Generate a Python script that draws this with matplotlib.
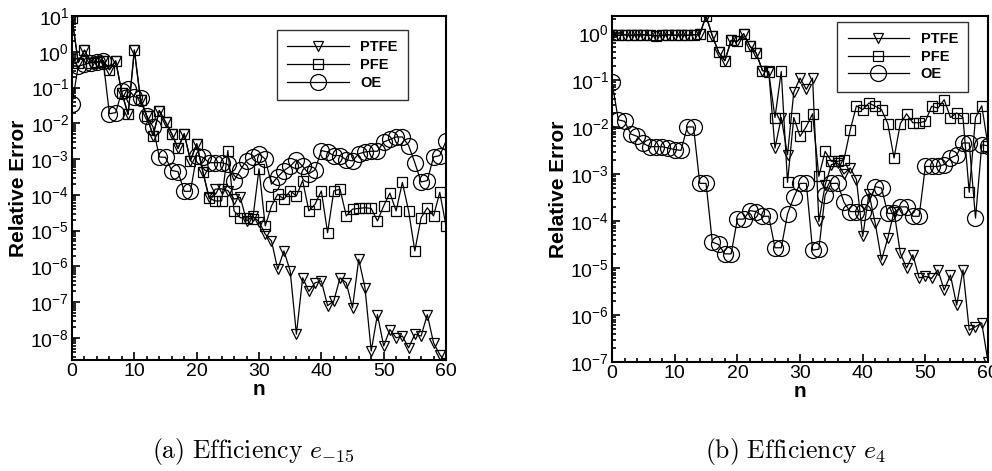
import numpy as np
import matplotlib
matplotlib.use("Agg")
import matplotlib.pyplot as plt
from matplotlib.ticker import LogLocator, MultipleLocator, NullFormatter

plt.rcParams['font.family'] = ['Liberation Sans', 'DejaVu Sans']
plt.rcParams['mathtext.fontset'] = 'custom'
plt.rcParams['mathtext.rm'] = 'Liberation Sans'
plt.rcParams['mathtext.it'] = 'Liberation Sans:italic'
plt.rcParams['mathtext.bf'] = 'Liberation Sans:bold'

n = np.arange(61)

# values given as log10 of the relative error
# (a) efficiency e_-15
a_ptfe = [0.95, -0.3, 0.05, -0.3, -0.28, -0.25, -0.5, -0.25, -1.15, -1.75,
          0.05, -1.35, -1.8, -2.34, -1.64, -1.96, -2.29, -2.7, -2.29, -3.04,
          -2.57, -3.36, -4.07, -3.84, -3.83, -3.88, -4.12, -4.07, -4.73, -4.6,
          -4.75, -5.1, -5.29, -6.08, -5.57, -6.13, -7.9, -6.32, -6.7, -6.46,
          -6.41, -7.1, -6.97, -6.32, -6.46, -7.16, -5.8, -6.6, -8.37, -7.35,
          -8.23, -7.77, -8.0, -7.95, -8.28, -7.9, -7.95, -7.35, -8.14, -8.47,
          -8.7]
a_pfe = [0.95, -0.3, 0.05, -0.3, -0.28, -0.25, -0.5, -0.25, -1.15, -1.75,
         0.05, -1.35, -1.8, -2.34, -1.64, -1.96, -2.29, -2.7, -2.29, -3.04,
         -2.57, -3.36, -4.1, -4.17, -4.17, -2.76, -4.45, -4.64, -4.64, -4.68,
         -3.27, -4.87, -4.31, -3.98, -4.12, -3.89, -4.03, -3.6, -4.45, -4.26,
         -3.89, -5.06, -3.89, -3.84, -4.59, -4.4, -4.38, -4.36, -4.38, -4.73,
         -4.31, -3.95, -4.45, -3.65, -4.45, -5.57, -4.64, -4.36, -4.59, -3.93,
         -4.87]
a_oe = [-1.45, -0.4, -0.35, -0.3, -0.28, -0.25, -1.73, -1.7, -1.1, -1.05,
        -1.25, -1.3, -1.8, -2.1, -2.94, -2.95, -3.32, -3.35, -3.9, -3.9,
        -2.9, -2.95, -3.1, -3.1, -3.1, -3.15, -3.6, -3.3, -3.04, -2.95,
        -2.85, -3.0, -3.7, -3.5, -3.32, -3.2, -3.02, -3.2, -3.41, -3.3,
        -2.76, -2.8, -2.9, -2.9, -3.02, -3.05, -2.85, -2.8, -2.78, -2.78,
        -2.52, -2.45, -2.38, -2.38, -2.62, -3.1, -3.64, -3.6, -2.94, -2.9,
        -2.5]

# (b) efficiency e_4
b_ptfe = [-0.04, -0.05, -0.04, -0.05, -0.04, -0.04, -0.05, -0.06, -0.05, -0.04,
          -0.05, -0.04, -0.05, -0.04, -0.03, 0.36, -0.06, -0.41, -0.59, -0.16,
          -0.18, -0.02, -0.28, -0.43, -0.8, -0.82, -2.45, -1.8, -2.59, -1.26,
          -0.96, -1.2, -0.96, -4.01, -3.24, -2.8, -2.77, -3.0, -2.87, -3.12,
          -4.33, -3.42, -4.05, -4.83, -4.37, -3.8, -4.68, -5.0, -4.72, -5.21,
          -5.18, -5.22, -5.04, -5.47, -5.15, -5.79, -5.04, -6.32, -6.25, -6.17,
          -7.0]
b_pfe = [-0.04, -0.05, -0.04, -0.05, -0.04, -0.04, -0.05, -0.06, -0.05, -0.04,
         -0.05, -0.04, -0.05, -0.04, -0.03, 0.36, -0.06, -0.41, -0.59, -0.16,
         -0.18, -0.02, -0.28, -0.43, -0.8, -0.84, -1.8, -0.82, -3.18, -1.8,
         -2.2, -1.99, -1.72, -3.05, -2.52, -2.73, -2.73, -2.7, -2.07, -1.55,
         -1.63, -1.49, -1.56, -1.63, -1.93, -2.66, -1.93, -1.72, -1.91, -1.91,
         -1.88, -1.56, -1.6, -1.42, -1.8, -1.7, -1.8, -3.39, -1.8, -1.55,
         -2.4]
b_oe = [-1.05, -1.85, -1.88, -2.15, -2.2, -2.35, -2.42, -2.42, -2.42, -2.45,
        -2.48, -2.5, -2.0, -2.0, -3.2, -3.2, -4.45, -4.5, -4.7, -4.7,
        -3.96, -3.96, -3.78, -3.8, -3.9, -3.9, -4.57, -4.57, -3.85, -3.5,
        -3.2, -3.2, -4.62, -4.6, -3.45, -3.2, -3.2, -3.6, -3.8, -3.8,
        -3.8, -3.6, -3.27, -3.3, -3.84, -3.84, -3.7, -3.7, -3.9, -3.9,
        -2.84, -2.84, -2.84, -2.8, -2.66, -2.6, -2.34, -2.34, -3.94, -2.38,
        -2.4]

labels = ['PTFE', 'PFE', 'OE']
captions = [r'$\mathrm{(a)\ Efficiency}\ e_{-15}$', r'$\mathrm{(b)\ Efficiency}\ e_{4}$']
caption_x = [0.255, 0.802]
ylims = [(10 ** -8.62, 10 ** 1), (1e-7, 10 ** 0.36)]
legend_anchor = [(0.898, 0.959), (0.947, 0.983)]

fig = plt.figure(figsize=(9.92, 4.71), dpi=100)
ax_a = fig.add_axes([0.0726, 0.2357, 0.377, 0.730])
ax_b = fig.add_axes([0.617, 0.2314, 0.379, 0.7346])

panels = [(ax_a, [a_ptfe, a_pfe, a_oe]), (ax_b, [b_ptfe, b_pfe, b_oe])]
markers = [('v', 7.5), ('s', 6.5), ('o', 11.5)]

for k, (ax, series) in enumerate(panels):
    for s, lab, (mk, ms) in zip(series, labels, markers):
        ax.plot(n, 10.0 ** np.array(s), color='black', lw=0.9, marker=mk, ms=ms,
                mfc='none', mec='black', mew=0.9, label=lab)
    ax.set_yscale('log')
    ax.set_xlim(0, 60)
    ax.set_ylim(*ylims[k])
    ax.xaxis.set_major_locator(MultipleLocator(10))
    ax.xaxis.set_minor_locator(MultipleLocator(2))
    ax.yaxis.set_major_locator(LogLocator(base=10, numticks=20))
    ax.yaxis.set_minor_locator(LogLocator(base=10, subs=np.arange(2, 10), numticks=20))
    ax.yaxis.set_minor_formatter(NullFormatter())
    ax.tick_params(which='both', direction='in', top=False, right=False,
                   labelsize=14, width=1.2)
    ax.tick_params(which='major', length=6, pad=2)
    ax.tick_params(which='minor', length=3)
    for sp in ax.spines.values():
        sp.set_linewidth(1.5)
    ax.set_xlabel('n', fontsize=15, fontweight='bold', labelpad=0)
    ax.set_ylabel('Relative Error', fontsize=15, fontweight='bold', labelpad=2)
    leg = ax.legend(loc='upper right', bbox_to_anchor=legend_anchor[k], frameon=True,
                    fancybox=False, edgecolor='black',
                    prop={'weight': 'bold', 'size': 10.5}, handlelength=4.2,
                    borderpad=0.7, labelspacing=0.25, handletextpad=0.8,
                    borderaxespad=0)
    leg.get_frame().set_linewidth(1.0)
    fig.text(caption_x[k], 0.042, captions[k], ha='center', va='center',
             fontsize=18.5, math_fontfamily='cm')

fig.savefig('out.png', dpi=100)
